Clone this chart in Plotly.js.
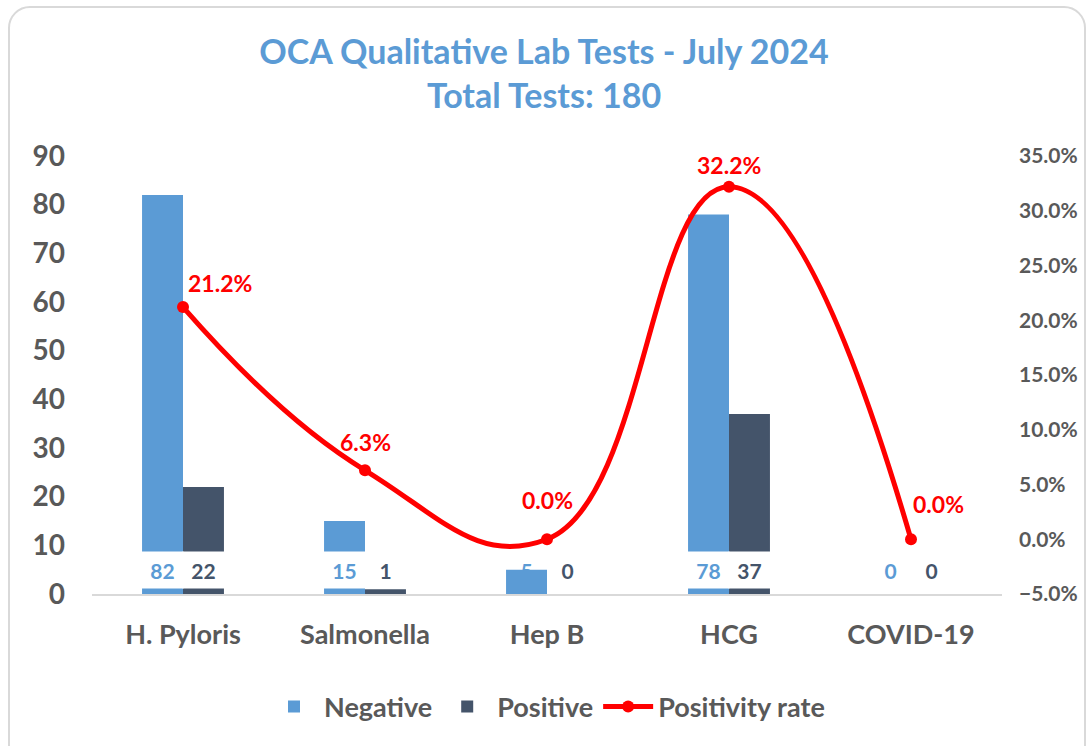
<!DOCTYPE html>
<html><head><meta charset="utf-8">
<script src="https://cdn.plot.ly/plotly-3.0.1.min.js"></script>
<style>
body{margin:0;padding:0;background:#fff;}
#wrap{position:relative;width:1088px;height:746px;overflow:hidden;}
#chart{width:1088px;height:746px;}
#frame{position:absolute;left:8px;top:6px;width:1074px;height:760px;border:2px solid #d9d9d9;border-radius:22px;pointer-events:none;}
</style></head>
<body>
<div id="wrap"><div id="chart"></div><div id="frame"></div></div>
<script>
const categories = ["H. Pyloris","Salmonella","Hep B","HCG","COVID-19"];
const negative = [82,15,5,78,0];
const positive = [22,1,0,37,0];
const positivityRate = [0.212,0.063,0.0,0.322,0.0];

const FONT = "Lato, 'Open Sans', sans-serif";
const NEG_COLOR = "#5B9BD5", POS_COLOR = "#44546A", LINE_COLOR = "#FF0000", TXT = "#595959";

const traces = [
  {type:'bar', name:'Negative', x:categories, y:negative, marker:{color:NEG_COLOR}, hoverinfo:'y'},
  {type:'bar', name:'Positive', x:categories, y:positive, marker:{color:POS_COLOR}, hoverinfo:'y'},
  {type:'scatter', mode:'lines+markers', name:'Positivity rate', x:categories, y:positivityRate, yaxis:'y2',
   line:{color:LINE_COLOR, width:5, shape:'spline', smoothing:1.3}, marker:{color:LINE_COLOR, size:12}}
];

// label offsets for line labels (style only)
const rateShift = [[37,24],[0,28],[0,39],[0,22],[27,35]];

const annotations = [];
categories.forEach((c,i)=>{
  annotations.push({x:c, y:5, xref:'x', yref:'y', xshift:-20.5, text:String(negative[i]), showarrow:false,
    font:{family:FONT, size:21, color:NEG_COLOR, weight:'bold'}, bgcolor: negative[i] >= 10 ? '#ffffff' : 'rgba(0,0,0,0)',
    width:41, height:36, borderpad:0, yanchor:'middle'});
  annotations.push({x:c, y:5, xref:'x', yref:'y', xshift:20.5, text:String(positive[i]), showarrow:false,
    font:{family:FONT, size:21, color:POS_COLOR, weight:'bold'}, bgcolor: positive[i] >= 10 ? '#ffffff' : 'rgba(0,0,0,0)',
    width:41, height:36, borderpad:0, yanchor:'middle'});
  annotations.push({x:c, y:positivityRate[i], xref:'x', yref:'y2', xshift:rateShift[i][0], yshift:rateShift[i][1],
    text:(positivityRate[i]*100).toFixed(1)+'%', showarrow:false,
    font:{family:FONT, size:23, color:LINE_COLOR, weight:'bold'}});
});

const layout = {
  width:1088, height:746,
  margin:{l:92, r:86, t:156, b:152},
  paper_bgcolor:'#ffffff', plot_bgcolor:'#ffffff',
  title:{text:'OCA Qualitative Lab Tests - July 2024<br>Total Tests: 180', x:0.5, xanchor:'center', y:0.914, yanchor:'middle',
    font:{family:FONT, size:34, color:NEG_COLOR, weight:'bold'}},
  barmode:'group', bargap:0.55, bargroupgap:0,
  showlegend:true,
  legend:{orientation:'h', x:0.5, xanchor:'center', y:-0.258, yanchor:'middle',
    font:{family:FONT, size:27, color:TXT, weight:'bold'}, itemwidth:50, traceorder:'normal'},
  xaxis:{type:'category', range:[-0.5,4.5], showgrid:false, showline:true, linecolor:'#d9d9d9', linewidth:2,
    ticks:'', tickfont:{family:FONT, size:27, color:TXT, weight:'bold'}, ticklabelstandoff:16, zeroline:false},
  yaxis:{range:[0,90], dtick:10, showgrid:false, showline:false, zeroline:false, ticks:'',
    tickfont:{family:FONT, size:28, color:TXT, weight:'bold'}, ticklabelstandoff:26},
  yaxis2:{overlaying:'y', side:'right', range:[-0.05,0.35], dtick:0.05, tickformat:'.1%', showgrid:false,
    showline:false, zeroline:false, ticks:'', tickfont:{family:FONT, size:21, color:TXT, weight:'bold'}, ticklabelstandoff:16},
  annotations:annotations
};

Plotly.newPlot('chart', traces, layout, {displayModeBar:false, staticPlot:true});
</script>
</body></html>
